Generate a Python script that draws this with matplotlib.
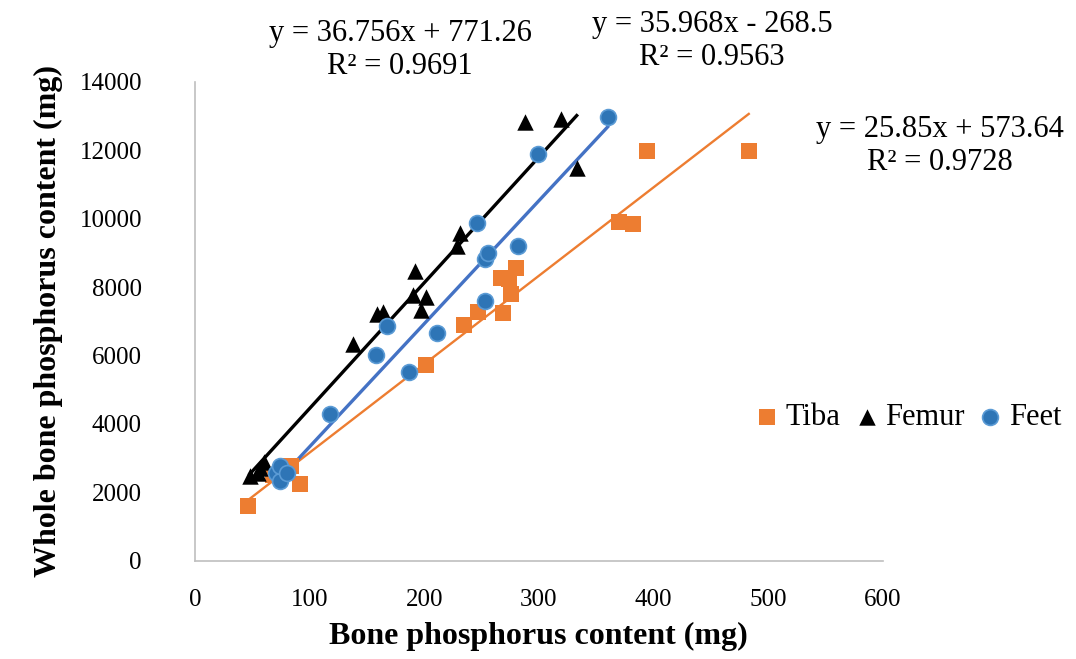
import numpy as np
import matplotlib
matplotlib.use('Agg')
from matplotlib import pyplot as plt

plt.rcParams['font.family'] = ['Liberation Serif', 'DejaVu Serif']

# Tiba
tiba_x = [46, 68, 84, 92, 202, 235, 247, 269, 267, 274, 276, 280, 370, 382, 394, 483]
tiba_y = [1600, 2500, 2760, 2250, 5720, 6900, 7260, 7230, 8270, 8240, 7800, 8550, 9890, 9830, 11970, 11980]
# Femur
femur_x = [48, 55, 60, 57, 138, 159, 164, 192, 190, 202, 197, 229, 231, 288, 319, 333]
femur_y = [2470, 2560, 2900, 2700, 6340, 7200, 7260, 8480, 7780, 7720, 7340, 9190, 9580, 12830, 12910, 11480]
# Feet
feet_x = [71, 74, 74, 80, 118, 158, 168, 187, 211, 246, 253, 256, 253, 282, 299, 360]
feet_y = [2560, 2320, 2760, 2570, 4300, 6020, 6850, 5530, 6650, 9860, 8820, 8990, 7580, 9190, 11900, 12970]

# trendline coefficients (slope, intercept, R2) as printed on chart
tiba_fit = (25.85, 573.64, 0.9728)
femur_fit = (36.756, 771.26, 0.9691)
feet_fit = (35.968, -268.5, 0.9563)

orange = '#ED7D31'
blue_line = '#4472C4'
blue_pt = '#2E75B6'

fig = plt.figure(figsize=(10.76, 6.59), dpi=100)
ax = fig.add_axes([0.181, 0.149, 0.6396, 0.727])

def trend(x, fit, color, lw):
    xs = np.array([min(x), max(x)])
    ax.plot(xs, fit[0] * xs + fit[1], color=color, linewidth=lw, zorder=2)

trend(tiba_x, tiba_fit, orange, 1.7)
trend(femur_x, femur_fit, 'black', 2.4)
trend(feet_x, feet_fit, blue_line, 2.4)

ax.scatter(tiba_x, tiba_y, marker='s', s=140, color=orange, linewidths=0, label='Tiba', zorder=3)
ax.scatter(femur_x, femur_y, marker='^', s=140, color='black', linewidths=0, label='Femur', zorder=3)
ax.scatter(feet_x, feet_y, marker='o', s=130, color=blue_pt, edgecolors='#5B9BD5', linewidths=1.2,
           label='Feet', zorder=3)

ax.set_xlim(0, 600)
ax.set_ylim(0, 14000)
ax.set_xticks(range(0, 601, 100))
ax.set_yticks(range(0, 14001, 2000))
ax.tick_params(length=0, labelsize=18)
ax.tick_params(axis='y', pad=38)
ax.tick_params(axis='x', pad=20)
for s in ['top', 'right']:
    ax.spines[s].set_visible(False)
for s in ['left', 'bottom']:
    ax.spines[s].set_color('#BFBFBF')
    ax.spines[s].set_linewidth(1.2)

ax.set_xlabel('Bone phosphorus content (mg)', fontsize=23, fontweight='bold', labelpad=8)
ax.set_ylabel('Whole bone phosphorus content (mg)', fontsize=23, fontweight='bold', labelpad=12)

def eq_text(fit, x, y):
    sign = '+' if fit[1] >= 0 else '-'
    s = 'y = %gx %s %g\nR\u00b2 = %.4f' % (fit[0], sign, abs(fit[1]), fit[2])
    fig.text(x, y, s, ha='center', va='center', fontsize=22, linespacing=1.15)

eq_text(femur_fit, 400 / 1076, 1 - 50 / 659)
eq_text(feet_fit, 712 / 1076, 1 - 41 / 659)
eq_text(tiba_fit, 940 / 1076, 1 - 146 / 659)

ax.legend(loc='center', bbox_to_anchor=(905 / 1076, 1 - 418 / 659), bbox_transform=fig.transFigure,
          ncol=3, frameon=False, fontsize=22, handletextpad=0.0, columnspacing=0.25,
          handlelength=1.2, scatterpoints=1, markerscale=1.0)

fig.savefig('out.png', dpi=100)
